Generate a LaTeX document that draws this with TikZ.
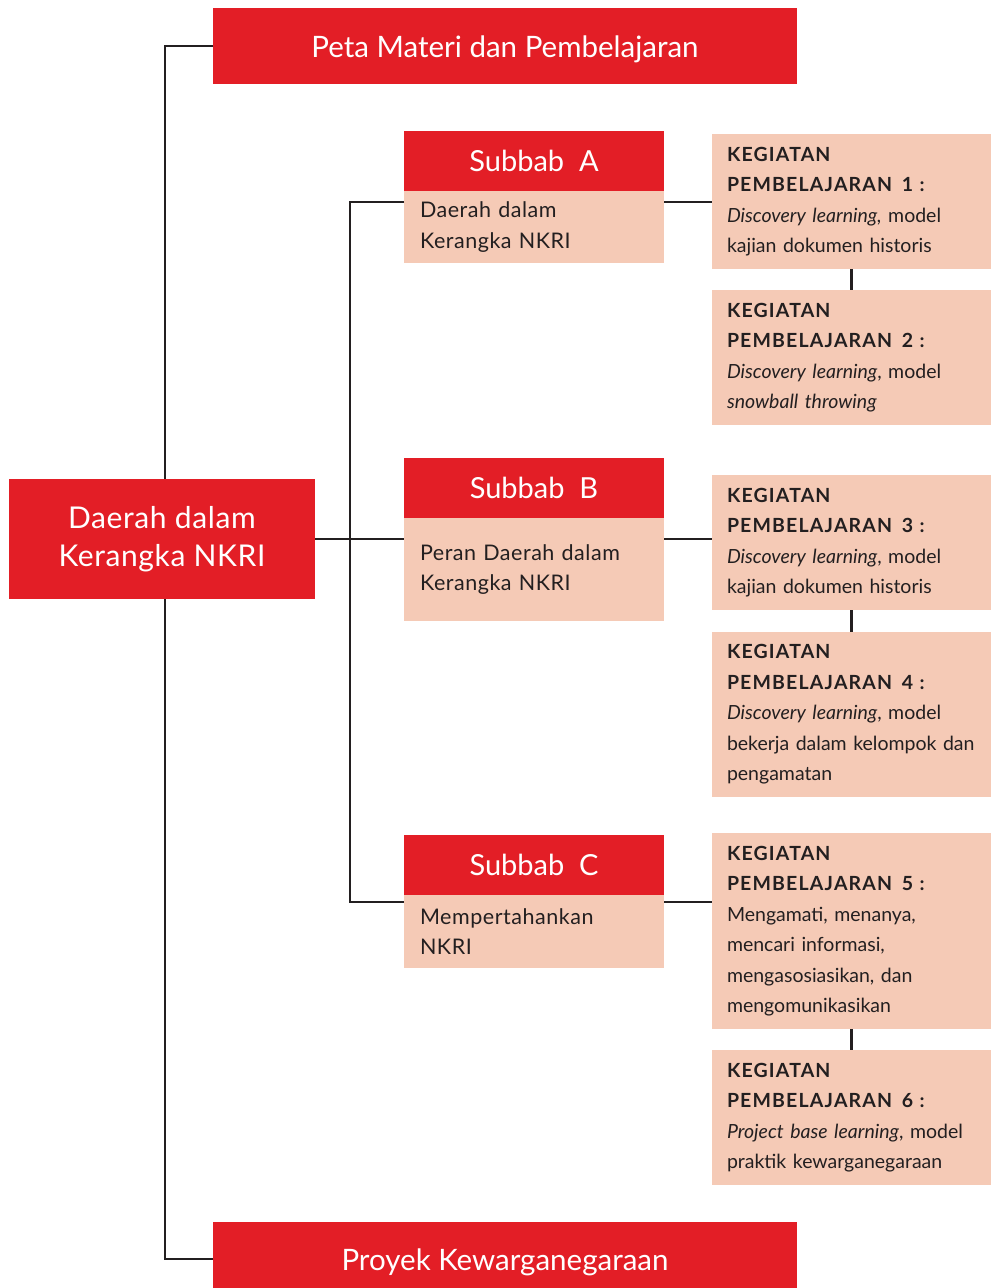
\documentclass[tikz,border=0pt]{standalone}
\usepackage{fontspec}
\setmainfont{Lato}
\usetikzlibrary{positioning}
\definecolor{petared}{HTML}{E31E26}
\definecolor{petapink}{HTML}{F5CAB6}
\definecolor{petaink}{HTML}{231F20}
\newcommand{\kphead}[1]{\textbf{\addfontfeature{LetterSpace=6}KEGIATAN}\\\textbf{\addfontfeature{LetterSpace=6}PEMBELAJARAN\enspace #1\ :}}

\begin{document}
\begin{tikzpicture}
    [
    x = 1pt, y = -1pt,
    every node/.style = {inner sep = 0pt, outer sep = 0pt},
    red box/.style = {rectangle, fill = petared, text = white, align = center, anchor = north west},
    sub head/.style = {red box, minimum width = 260pt, minimum height = 60pt, font = \fontsize{29}{32}\selectfont},
    sub body/.style = {rectangle, fill = petapink, text = petaink, inner xsep = 16pt, text width = 228pt, align = left, font = \fontsize{21.5}{30.5}\selectfont\addfontfeature{LetterSpace=2.5}},
    kp box/.style = {rectangle, fill = petapink, text = petaink, inner xsep = 15pt, text width = 249pt, align = left, font = \fontsize{19.5}{30.5}\selectfont},
    link/.style = {draw = petaink, line width = 2.2pt},
    ]
    \fill[white] (0,0) rectangle (991,1288);
    \useasboundingbox (0,0) rectangle (991,1288);

    % outer frame
    \node[red box, minimum width = 584pt, minimum height = 76pt, text height = 28pt, text depth = 6pt, font = \fontsize{29.5}{32}\selectfont] (peta) at (213,8) {Peta Materi dan Pembelajaran};
    \node[red box, minimum width = 306pt, minimum height = 120pt, font = \fontsize{30}{38}\selectfont\addfontfeature{LetterSpace=2}] (main) at (9,479) {Daerah dalam\\Kerangka NKRI};
    \node[red box, minimum width = 584pt, minimum height = 66pt, text height = 36pt, text depth = 6pt, font = \fontsize{29.5}{32}\selectfont] (proyek) at (213,1222) {Proyek Kewarganegaraan};

    % subbab
    \node[sub head] (headA) at (404,131) {Subbab\ \ A};
    \node[sub body, minimum height = 72pt, below = 0pt of headA] (bodyA) {Daerah dalam\\Kerangka NKRI};
    \node[sub head] (headB) at (404,458) {Subbab\ \ B};
    \node[sub body, minimum height = 103pt, below = 0pt of headB] (bodyB) {Peran Daerah dalam\\Kerangka NKRI};
    \node[sub head] (headC) at (404,835) {Subbab\ \ C};
    \node[sub body, minimum height = 73pt, below = 0pt of headC] (bodyC) {Mempertahankan\\NKRI};

    % kegiatan pembelajaran
    \node[kp box, minimum height = 135pt, anchor = north west] (kp1) at (712,134)
        {\kphead{1}\\\textit{Discovery learning,} model\\kajian dokumen historis};
    \node[kp box, minimum height = 135pt, below = 21pt of kp1] (kp2)
        {\kphead{2}\\\textit{Discovery learning}, model\\\textit{snowball throwing}};
    \node[kp box, minimum height = 135pt, anchor = north west] (kp3) at (712,475)
        {\kphead{3}\\\textit{Discovery learning}, model\\kajian dokumen historis};
    \node[kp box, minimum height = 165pt, below = 22pt of kp3] (kp4)
        {\kphead{4}\\\textit{Discovery learning}, model\\bekerja dalam kelompok dan\\pengamatan};
    \node[kp box, minimum height = 196pt, anchor = north west] (kp5) at (712,833)
        {\kphead{5}\\Mengamati, menanya,\\mencari informasi,\\mengasosiasikan, dan\\mengomunikasikan};
    \node[kp box, minimum height = 135pt, below = 21pt of kp5] (kp6)
        {\kphead{6}\\\textit{Project base learning}, model\\praktik kewarganegaraan};

    % connectors
    \coordinate (jA) at ([yshift=-11pt]bodyA.north west);
    \coordinate (jC) at ([yshift=-7pt]bodyC.north west);
    \draw[link] (peta.west) -| ([xshift=3pt]main.north);
    \draw[link] ([yshift=-4pt]proyek.west) -| ([xshift=3pt]main.south);
    \draw[link] (main.east) -- (main.east -| bodyB.west);
    \draw[link] (jA) -- ++(-54,0) |- (jC);
    \draw[link] (jA -| bodyA.east) -- (jA -| kp1.west);
    \draw[link] (main.east -| bodyB.east) -- (main.east -| kp3.west);
    \draw[link] (jC -| bodyC.east) -- (jC -| kp5.west);
    \draw[link] (kp1) -- (kp2);
    \draw[link] (kp3) -- (kp4);
    \draw[link] (kp5) -- (kp6);
\end{tikzpicture}
\end{document}
